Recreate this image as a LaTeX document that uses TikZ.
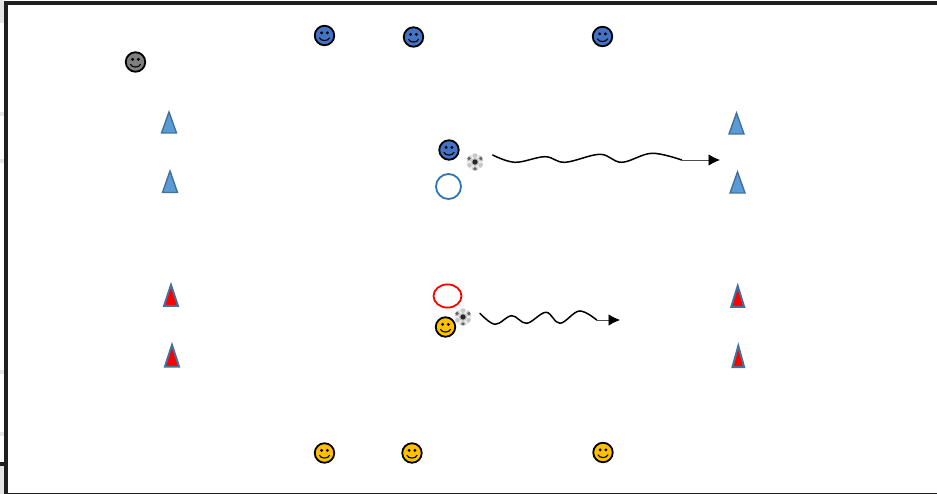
\documentclass[tikz,border=0pt]{standalone}
\usepackage{tikz}
\usetikzlibrary{arrows.meta}

\definecolor{playerblue}{HTML}{4472C4}
\definecolor{playerorange}{HTML}{FFC000}
\definecolor{playergrey}{HTML}{7F7F7F}
\definecolor{coneblue}{HTML}{5B9BD5}
\definecolor{coneedge}{HTML}{41719C}
\definecolor{ringblue}{HTML}{2E75B6}
\definecolor{framedark}{HTML}{1F1F1F}

\tikzset{
  smiley/.style={circle,draw=black,line width=1.8pt,minimum size=19.5pt,inner sep=0pt,
    path picture={
      \fill[black] (path picture bounding box.center) ++(-2.9pt,2.6pt) circle (1.6pt)
        ++(5.8pt,0) circle (1.6pt);
      \draw[black,line width=1.1pt] (path picture bounding box.center) ++(-5.2pt,-2.2pt)
        .. controls +(1.5pt,-3.8pt) and +(-1.5pt,-3.8pt) .. +(10.4pt,0);
    }},
  ball/.style={circle,fill=black!6,minimum size=17pt,inner sep=0pt,
    path picture={
      \coordinate (bc) at (path picture bounding box.center);
      \fill[black!25] (bc) circle (4pt);
      \fill[black!85] (bc) circle (2.6pt);
      \foreach \a in {30,150,270}{
        \fill[black!20] (bc) ++(\a:7pt) circle (3pt);
        \fill[black!60] (bc) ++(\a:7pt) circle (1.9pt);
      }
      \foreach \a in {90,210,330}{
        \fill[black!22] (bc) ++(\a:6.5pt) circle (2.4pt);
      }
    }},
  wave/.style={black,line width=1.5pt,line cap=round},
  runline/.style={black!70,line width=0.8pt,-{Latex[black,length=11.5pt,width=11.5pt,sharp]}}
}

\begin{document}
\begin{tikzpicture}[x=1pt,y=-1pt]
  \useasboundingbox (0,0) rectangle (937,494);

  % sheet frame
  \foreach \y/\h in {0/23,112/4,159/4,370/4,432/4,466/28}{
    \fill[black!10] (0,\y) rectangle (4,\y+\h);
  }
  \fill[framedark] (4,1) rectangle (8,494);
  \fill[framedark] (4,1) rectangle (937,5);
  \fill[framedark] (0,462) rectangle (8,466);
  \fill[framedark] (8,492.5) rectangle (937,494);

  % cones
  \foreach \x/\t/\b in {169/112/133,170/171/192.5,736.5/113/134,737.5/172/193}{
    \draw[coneedge,fill=coneblue,line width=1.4pt,line join=miter] (\x,\t) -- (\x+7.5,\b) -- (\x-7.5,\b) -- cycle;
  }
  \foreach \x/\t/\b/\w in {171/285/306/7,172/345/366.5/7,737.7/286/307/6.5,738.3/346/367/5.8}{
    \draw[coneedge,fill=red,line width=2pt,line join=miter] (\x,\t) -- (\x+\w,\b) -- (\x-\w,\b) -- cycle;
  }

  % players
  \node[smiley,fill=playergrey] (coach) at (135.5,62) {};
  \foreach \n/\x/\y in {b1/324.5/35.5,b2/413.5/37,b3/602.5/36.5,b4/449/150}{
    \node[smiley,fill=playerblue] (\n) at (\x,\y) {};
  }
  \foreach \n/\x/\y in {o1/324.5/453,o2/412/453,o3/603/452.5,o4/445.5/327}{
    \node[smiley,fill=playerorange] (\n) at (\x,\y) {};
  }

  % rings
  \node[circle,draw=ringblue,line width=1.8pt,minimum size=25pt,inner sep=0pt] (ringb) at (448.5,186.5) {};
  \draw[red,line width=1.8pt] (447.5,296) circle [x radius=14pt,y radius=11.6pt];

  % balls
  \node[ball] (ballb) at (475,162) {};
  \node[ball] (ballo) at (463,317) {};

  % dribbles
  \coordinate (wb) at (681.7,160);
  \coordinate (tb) at (720,160);
  \draw[wave] plot[smooth,tension=0.6] coordinates {(492.7,155) (515,162.3) (545,156.7)
    (565,162.3) (600,154.3) (621.7,162.3) (651.7,153.3) (wb)};
  \draw[runline] (wb) -- (tb);

  \coordinate (wo) at (596.7,320);
  \coordinate (to) at (620,320);
  \draw[wave] plot[smooth,tension=0.6] coordinates {(480,313.3) (495,324.3) (511.7,315.7)
    (526.7,323.3) (546,312.3) (560,323.3) (579.3,311) (wo)};
  \draw[runline] (wo) -- (to);
\end{tikzpicture}
\end{document}
